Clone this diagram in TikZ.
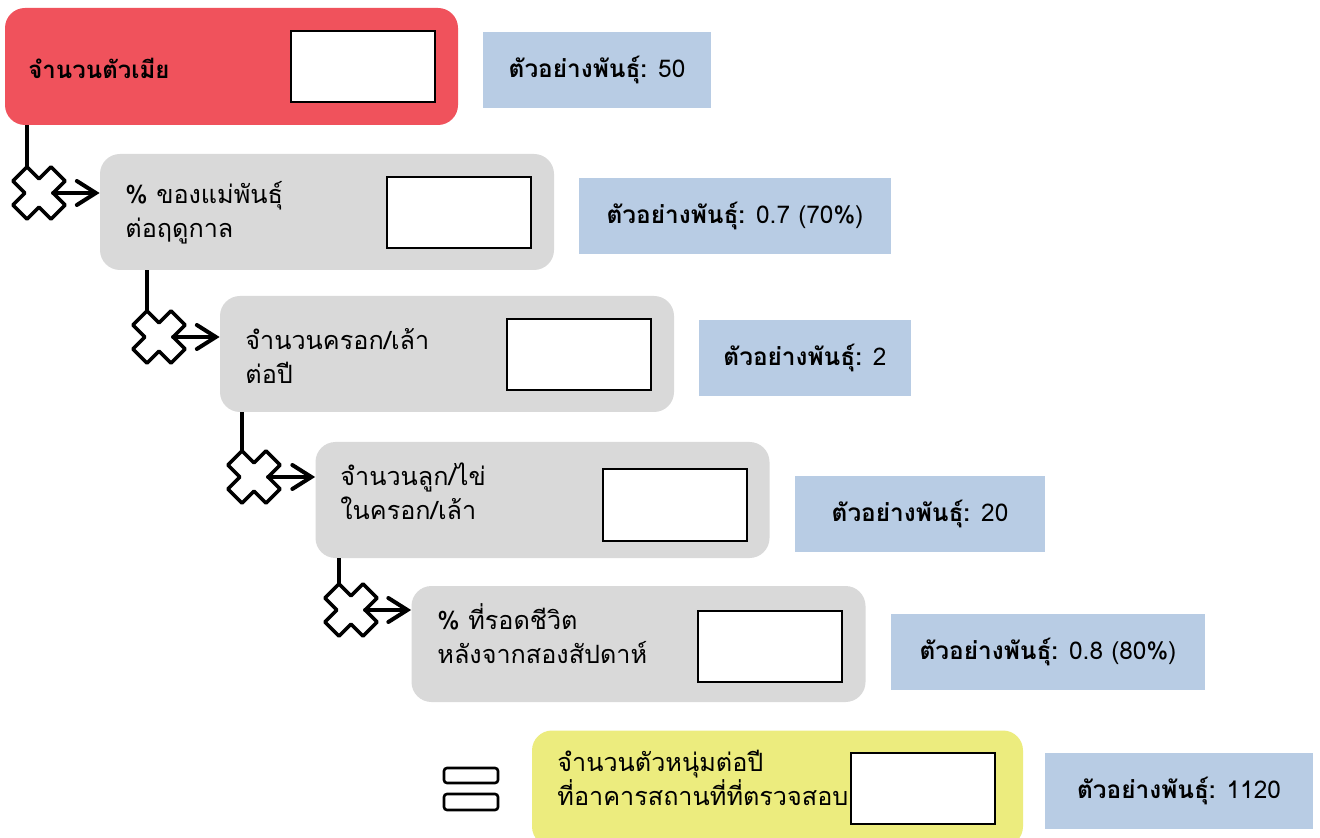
\documentclass[tikz,border=0pt]{standalone}
\usepackage{fontspec}
\setmainfont[Script=Thai]{Loma}
\usetikzlibrary{arrows.meta}
\definecolor{femalered}{RGB}{240,82,92}
\definecolor{stagegray}{RGB}{217,217,217}
\definecolor{exampleblue}{RGB}{184,204,228}
\definecolor{maleyellow}{RGB}{236,236,126}
\tikzset{
  stage/.style={rounded corners=10pt, minimum width=227pt, minimum height=58pt, inner sep=0pt, fill=stagegray},
  entry/.style={draw, line width=1pt, fill=white, minimum width=72pt, minimum height=35.5pt, inner sep=0pt},
  caption/.style={anchor=west, align=left, inner sep=0pt, font=\fontsize{12.6pt}{17pt}\selectfont},
  example/.style={fill=exampleblue, minimum height=38pt, inner sep=0pt, font=\fontsize{12.2pt}{17pt}\selectfont},
  link/.style={line width=2pt},
  flow/.style={line width=2pt, line cap=round, -{Straight Barb[length=9.5pt, width=12pt, line cap=round]}},
  crossmark/.pic={
    \draw[line width=1.8pt, line join=round, fill=white, rotate=45]
      (10,27) -- (10,10) -- (27,10) -- (27,-10) -- (10,-10) -- (10,-27) -- (-10,-27)
      -- (-10,-10) -- (-27,-10) -- (-27,10) -- (-10,10) -- (-10,27) -- cycle;
    \coordinate (-top) at (-12,-26);
    \coordinate (-out) at (14,0);
  }
}
\begin{document}
\begin{tikzpicture}[x=0.5pt, y=-0.5pt]
  \useasboundingbox[fill=white] (0,0) rectangle (1320,838);
  \clip (0,0) rectangle (1320,838);

  % stages
  \node[stage, fill=femalered, minimum width=226.5pt, minimum height=58.5pt] (female) at (231.5,66.5) {};
  \node[stage] (season) at (327,212) {};
  \node[stage] (clutch) at (447,354) {};
  \node[stage] (eggs) at (542.5,500) {};
  \node[stage] (survive) at (638.5,644) {};
  \node[stage, fill=maleyellow, minimum width=245.5pt] (males) at (777.5,788.5) {};

  % captions
  \node[caption, font=\fontsize{12pt}{17pt}\selectfont\bfseries] (femaletext) at (28,68) {จำนวนตัวเมีย};
  \node[caption] (seasontext) at (125,213) {\% ของแม่พันธุ์\\ต่อฤดูกาล};
  \node[caption] (clutchtext) at (245,356) {จำนวนครอก/เล้า\\ต่อปี};
  \node[caption] (eggstext) at (340,491) {จำนวนลูก/ไข่\\ในครอก/เล้า};
  \node[caption] (survivetext) at (437,634) {\% ที่รอดชีวิต\\หลังจากสองสัปดาห์};
  \node[caption] (malestext) at (557,778) {จำนวนตัวหนุ่มต่อปี\\ที่อาคารสถานที่ที่ตรวจสอบ};

  % input fields
  \node[entry] (femalebox) at (363,66.5) {};
  \node[entry] (seasonbox) at (459,212.5) {};
  \node[entry] (clutchbox) at (579,354.5) {};
  \node[entry] (eggsbox) at (675,505) {};
  \node[entry] (survivebox) at (770,646.5) {};
  \node[entry] (malesbox) at (922.5,788) {};

  % examples
  \node[example, minimum width=114pt] (exfemale) at (597,70) {\textbf{ตัวอย่างพันธุ์:} 50};
  \node[example, minimum width=156pt] (exseason) at (735,216) {\textbf{ตัวอย่างพันธุ์:} 0.7 (70\%)};
  \node[example, minimum width=106pt] (exclutch) at (805,358) {\textbf{ตัวอย่างพันธุ์:} 2};
  \node[example, minimum width=125pt] (exeggs) at (920,514) {\textbf{ตัวอย่างพันธุ์:} 20};
  \node[example, minimum width=157pt] (exsurvive) at (1048,652) {\textbf{ตัวอย่างพันธุ์:} 0.8 (80\%)};
  \node[example, minimum width=134pt] (exmales) at (1179,791) {\textbf{ตัวอย่างพันธุ์:} 1120};

  % multiply steps
  \pic (x1) at (39,193) {crossmark};
  \pic (x2) at (159,337) {crossmark};
  \pic (x3) at (254,477) {crossmark};
  \pic (x4) at (351,610) {crossmark};
  \draw[link] (female.south -| x1-top) -- (x1-top);
  \draw[link] (season.south -| x2-top) -- (x2-top);
  \draw[link] (clutch.south -| x3-top) -- (x3-top);
  \draw[link] (eggs.south -| x4-top) -- (x4-top);
  \draw[flow] (x1-out) -- (x1-out -| season.west);
  \draw[flow] (x2-out) -- (x2-out -| clutch.west);
  \draw[flow] (x3-out) -- (x3-out -| eggs.west);
  \draw[flow] (x4-out) -- (x4-out -| survive.west);

  % equals
  \draw[line width=1.3pt, rounded corners=1.5pt] (444,768) rectangle (498,783);
  \draw[line width=1.3pt, rounded corners=1.5pt] (444,794) rectangle (498,810);
\end{tikzpicture}
\end{document}
